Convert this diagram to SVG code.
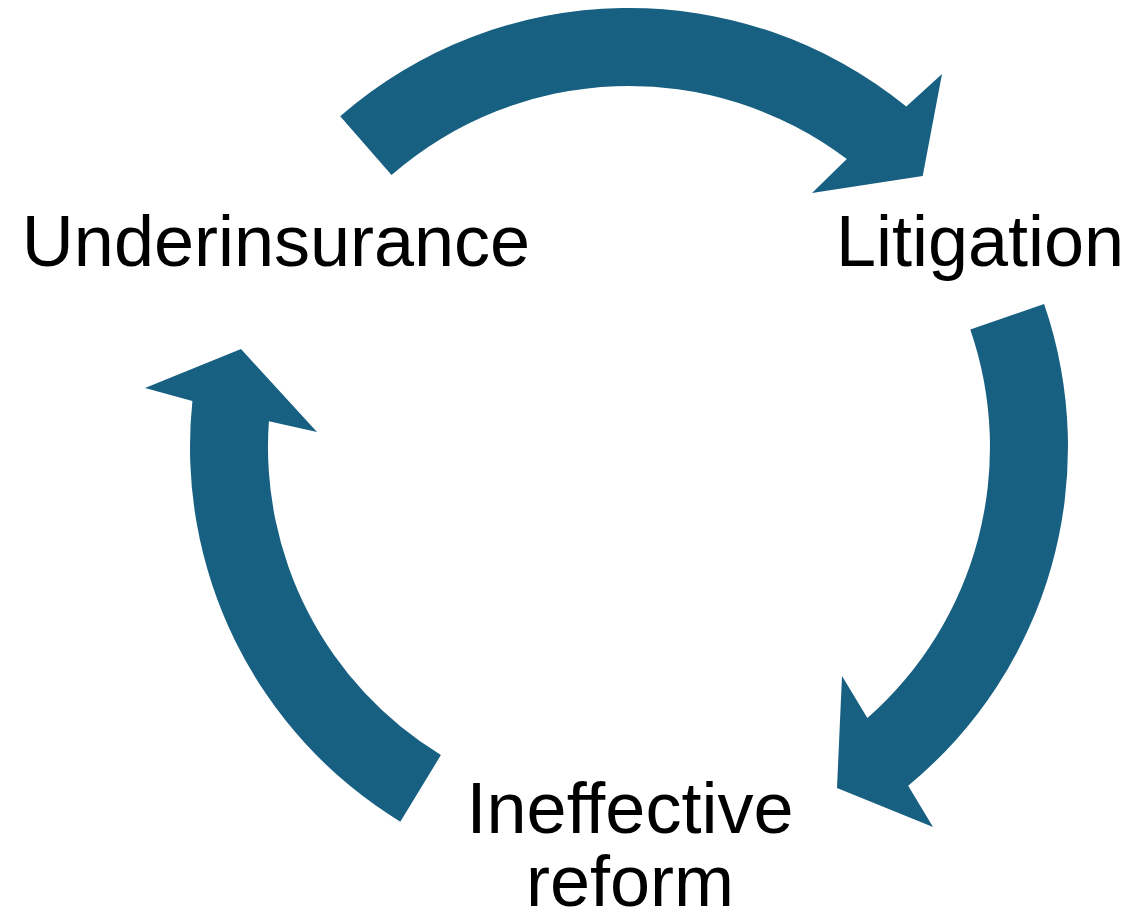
<svg xmlns="http://www.w3.org/2000/svg" width="1132" height="920" viewBox="0 0 1132 920">
<style>
.arrow{fill:#186082;stroke:none}
.label{font-family:"Liberation Sans",Arial,sans-serif;font-size:72px;fill:#000;text-anchor:middle}
</style>
<rect width="1132" height="920" fill="#fff"/>
<g id="connectors">
<path id="arrow-top" class="arrow" d="M340.2,116.3 A439,439 0 0 1 906.3,106.6 L942,74 L922.7,176 L812,193 L846.8,159.1 A361,361 0 0 0 391.5,175.1 Z"/>
<path id="arrow-right" class="arrow" d="M1044.1,304.1 A439,439 0 0 1 908.2,785.7 L933,827 L837,788 L842,676 L867.4,718.1 A361,361 0 0 0 970.3,329.5 Z"/>
<path id="arrow-left" class="arrow" d="M400.3,821.7 A439,439 0 0 1 192.4,401.1 L145,388 L241,349 L317,432 L268.9,421.2 A361,361 0 0 0 440.9,755.1 Z"/>
</g>
<g id="node-underinsurance"><text class="label" x="276" y="266">Underinsurance</text></g>
<g id="node-litigation"><text class="label" x="980" y="266">Litigation</text></g>
<g id="node-ineffective-reform"><text class="label" x="630" y="833">Ineffective</text><text class="label" x="630" y="906">reform</text></g>
</svg>
